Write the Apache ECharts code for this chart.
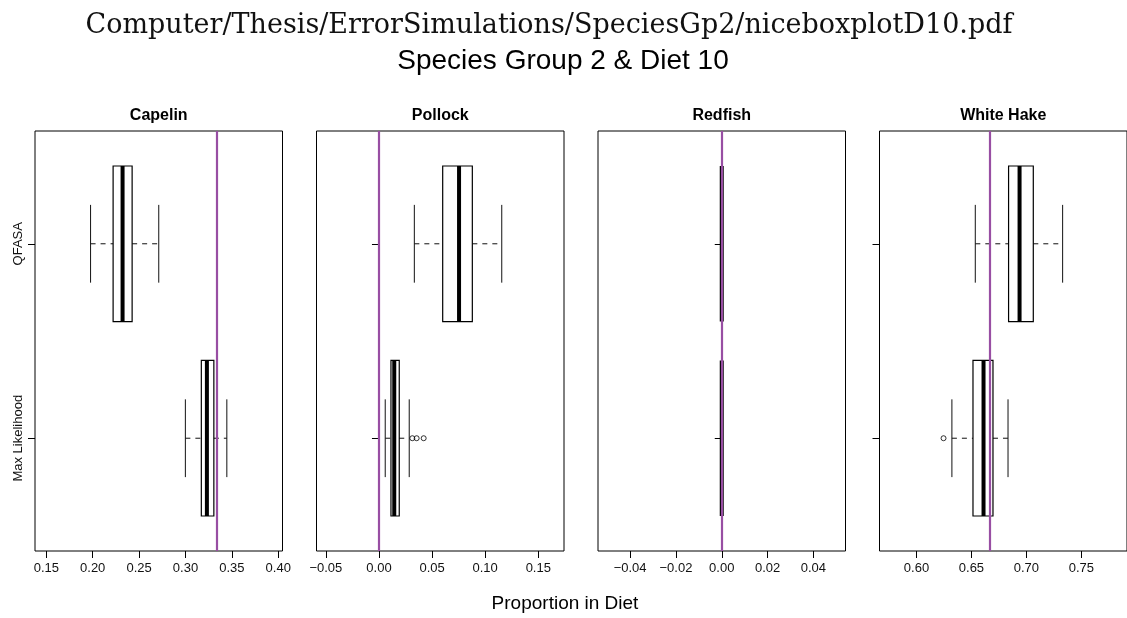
<!DOCTYPE html>
<html>
<head>
<meta charset="utf-8">
<script src="https://cdn.jsdelivr.net/npm/echarts@6/dist/echarts.min.js"></script>
<style>
  html, body { margin: 0; padding: 0; background: #fff; }
  #chart { width: 1127px; height: 618px; }
</style>
</head>
<body>
<div id="chart"></div>
<script>
// methods sit at y = 1 (Max Likelihood, bottom) and y = 2 (QFASA, top)
const methods = ['Max Likelihood', 'QFASA']
const species = ['Capelin', 'Pollock', 'Redfish', 'White Hake']

// [min, q1, median, q3, max] for Max Likelihood, then QFASA
const capelinStats = [[0.2999, 0.3171, 0.3231, 0.3306, 0.3446], [0.1977, 0.2220, 0.2322, 0.2425, 0.2712]]
const pollockStats = [[0.0059, 0.0113, 0.0144, 0.0191, 0.0285], [0.0333, 0.0600, 0.0754, 0.0879, 0.1156]]
const redfishStats = [[0, 0, 0, 0, 0], [0, 0, 0, 0, 0]]
const whiteHakeStats = [[0.6322, 0.6514, 0.6610, 0.6696, 0.6833], [0.6535, 0.6838, 0.6938, 0.7063, 0.7330]]

// outliers (Max Likelihood only)
const capelinOutliers = []
const pollockOutliers = [0.0314, 0.0355, 0.0421]
const redfishOutliers = []
const whiteHakeOutliers = [0.6246]

// true diet proportion (purple line)
const trueDiet = [0.3333, 0, 0, 0.6667]

// axis ranges and tick labels
const xRanges = [[0.1378, 0.4046], [-0.0588, 0.1742], [-0.054, 0.054], [0.5663, 0.7916]]
const xTicks = [
  [0.15, 0.20, 0.25, 0.30, 0.35, 0.40],
  [-0.05, 0.00, 0.05, 0.10, 0.15],
  [-0.04, -0.02, 0.00, 0.02, 0.04],
  [0.60, 0.65, 0.70, 0.75]
]

const allStats = [capelinStats, pollockStats, redfishStats, whiteHakeStats]
const allOutliers = [capelinOutliers, pollockOutliers, redfishOutliers, whiteHakeOutliers]

const PURPLE = '#984EA3'
const FONT = 'Liberation Sans, Arial, Helvetica, sans-serif'
const panelLeft = [35, 316.5, 598, 879.5]
const panelWidth = 247.5
const panelTop = 131
const panelHeight = 420

const fmtTick = (v) => (Math.abs(v) < 1e-9 ? 0 : v).toFixed(2).replace('-', '\u2212')

// 箱线图：须线、端线、箱体、中位线
function renderBox(params, api) {
  const pos = api.value(0)
  const v = [1, 2, 3, 4, 5].map((i) => api.value(i))
  const x = v.map((d) => api.coord([d, pos])[0])
  const y = api.coord([v[0], pos])[1]
  const boxTop = api.coord([v[0], pos + 0.4])[1]
  const boxBot = api.coord([v[0], pos - 0.4])[1]
  const stTop = api.coord([v[0], pos + 0.2])[1]
  const stBot = api.coord([v[0], pos - 0.2])[1]
  const thin = { stroke: '#111', lineWidth: 1 }
  const dash = { stroke: '#111', lineWidth: 1, lineDash: [5, 5] }
  return {
    type: 'group',
    children: [
      { type: 'line', shape: { x1: x[0], y1: y, x2: x[1], y2: y }, style: dash },
      { type: 'line', shape: { x1: x[3], y1: y, x2: x[4], y2: y }, style: dash },
      { type: 'line', shape: { x1: x[0], y1: stTop, x2: x[0], y2: stBot }, style: thin },
      { type: 'line', shape: { x1: x[4], y1: stTop, x2: x[4], y2: stBot }, style: thin },
      { type: 'rect', shape: { x: x[1], y: boxTop, width: x[3] - x[1], height: boxBot - boxTop }, style: { fill: 'none', stroke: '#000', lineWidth: 1.2 } },
      { type: 'line', shape: { x1: x[2], y1: boxTop, x2: x[2], y2: boxBot }, style: { stroke: '#000', lineWidth: 4 } }
    ]
  }
}

const grids = []
const xAxes = []
const yAxes = []
const series = []
const graphics = []

species.forEach((name, i) => {
  grids.push({
    left: panelLeft[i], top: panelTop, width: panelWidth, height: panelHeight,
    show: true, borderColor: '#000', borderWidth: 1, backgroundColor: 'transparent'
  })
  xAxes.push({
    gridIndex: i, type: 'value', min: xRanges[i][0], max: xRanges[i][1],
    axisLine: { show: false }, splitLine: { show: false },
    axisTick: { show: true, length: 7, customValues: xTicks[i], lineStyle: { color: '#000' } },
    axisLabel: { customValues: xTicks[i], formatter: fmtTick, fontSize: 13, margin: 11, color: '#111', fontFamily: FONT }
  })
  yAxes.push({
    gridIndex: i, type: 'value', min: 0.42, max: 2.58,
    axisLine: { show: false }, splitLine: { show: false },
    axisTick: { show: true, length: 7, customValues: [1, 2], lineStyle: { color: '#000' } },
    axisLabel: {
      show: i === 0, customValues: [1, 2], rotate: 90, margin: 10, fontSize: 13, color: '#111', fontFamily: FONT,
      formatter: (val) => methods[Math.round(val) - 1]
    }
  })
  series.push({
    type: 'custom', xAxisIndex: i, yAxisIndex: i, z: 2,
    renderItem: renderBox,
    encode: { x: [1, 2, 3, 4, 5], y: 0 },
    data: allStats[i].map((s, k) => [k + 1, ...s])
  })
  series.push({
    type: 'scatter', xAxisIndex: i, yAxisIndex: i, z: 3,
    symbol: 'circle', symbolSize: 5,
    itemStyle: { color: 'transparent', borderColor: '#000', borderWidth: 1 },
    data: allOutliers[i].map((v) => [v, 1]),
    markLine: {
      silent: true, symbol: 'none', precision: 6, label: { show: false },
      lineStyle: { color: PURPLE, width: 2.2, type: 'solid' },
      data: [{ xAxis: trueDiet[i] }]
    }
  })
  graphics.push({
    type: 'text', x: panelLeft[i] + panelWidth / 2, y: 116,
    style: { text: name, textAlign: 'center', textVerticalAlign: 'middle', font: 'bold 16px ' + FONT, fill: '#000' }
  })
})

graphics.push({
  type: 'text', x: 549, y: 26,
  style: { text: 'Computer/Thesis/ErrorSimulations/SpeciesGp2/niceboxplotD10.pdf', textAlign: 'center', textVerticalAlign: 'middle', font: '27px DejaVu Serif, serif', fill: '#111' }
})
graphics.push({
  type: 'text', x: 563, y: 61,
  style: { text: 'Species Group 2 & Diet 10', textAlign: 'center', textVerticalAlign: 'middle', font: '28px ' + FONT, fill: '#000' }
})
graphics.push({
  type: 'text', x: 565, y: 604,
  style: { text: 'Proportion in Diet', textAlign: 'center', textVerticalAlign: 'middle', font: '19px ' + FONT, fill: '#000' }
})

const chart = echarts.init(document.getElementById('chart'), null, { renderer: 'canvas' })
chart.setOption({
  animation: false,
  backgroundColor: '#fff',
  grid: grids,
  xAxis: xAxes,
  yAxis: yAxes,
  series: series,
  graphic: graphics
})
window.addEventListener('resize', () => chart.resize())
</script>
</body>
</html>
